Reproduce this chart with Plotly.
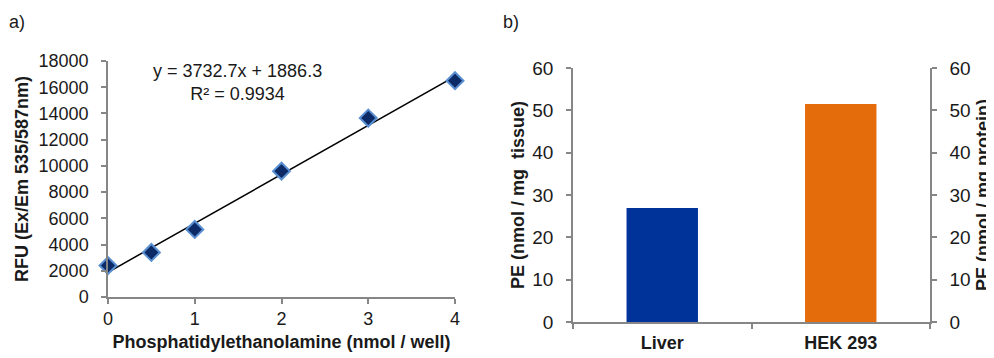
import plotly.graph_objects as go

# ---- data ----
pe_nmol = [0, 0.5, 1, 2, 3, 4]
rfu = [2400, 3400, 5150, 9600, 13650, 16500]
fit_slope = 3732.7
fit_intercept = 1886.3
fit_r2 = 0.9934
fit_x = [0, 4]

samples = ["Liver", "HEK 293"]
pe_tissue = [26.9]      # Liver, nmol / mg tissue (left axis)
pe_protein = [51.5]     # HEK 293, nmol / mg protein (right axis)

W, H = 994, 358
OFF = 8  # page body margin
ML, MR, MT, MB = 40, 20, 30, 20
FONT = "Liberation Sans, Arial, sans-serif"
AX = "#868686"
TXT = "#1a1a1a"

def px_x(p):
    return (p - OFF - ML) / (W - ML - MR)

def px_y(p):
    return 1 - (p - OFF - MT) / (H - MT - MB)

fit_y = [fit_slope * x + fit_intercept for x in fit_x]

fig = go.Figure()

fig.add_trace(go.Scatter(
    x=fit_x, y=fit_y, mode="lines",
    line=dict(color="black", width=1.5),
    xaxis="x", yaxis="y", showlegend=False, hoverinfo="skip",
    cliponaxis=False))
fig.add_trace(go.Scatter(
    x=pe_nmol, y=rfu, mode="markers",
    marker=dict(symbol="diamond", size=13, color="#0c2a66",
                line=dict(color="#5a8fd2", width=2)),
    xaxis="x", yaxis="y", showlegend=False, cliponaxis=False))

fig.add_trace(go.Bar(
    x=[samples[0]], y=pe_tissue, marker_color="#003399",
    width=0.4, offset=-0.2, marker_line_width=0,
    xaxis="x2", yaxis="y2", showlegend=False))
fig.add_trace(go.Bar(
    x=[samples[1]], y=pe_protein, marker_color="#e46c0a",
    width=0.4, offset=-0.2, marker_line_width=0,
    xaxis="x2", yaxis="y3", showlegend=False))

tickfont = dict(family=FONT, size=18, color=TXT)
tickfont_b = dict(family=FONT, size=19, color=TXT)
titlefont = dict(family=FONT, size=18, color=TXT, weight="bold")

base = dict(showline=True, linecolor=AX, linewidth=1.5, ticks="outside",
            tickcolor=AX, ticklen=5, tickwidth=1.5, showgrid=False,
            zeroline=False, automargin=False)

fig.update_layout(
    template="none",
    width=W, height=H,
    margin=dict(l=ML, r=MR, t=MT, b=MB),
    paper_bgcolor="white", plot_bgcolor="white",
    font=dict(family=FONT, color=TXT),
    xaxis=dict(domain=[px_x(108), px_x(455)], range=[0, 4],
               tickvals=[0, 1, 2, 3, 4], anchor="y", tickfont=tickfont,
               title=dict(text="Phosphatidylethanolamine (nmol / well)",
                          font=titlefont, standoff=7),
               ticklabelstandoff=0, **base),
    yaxis=dict(domain=[px_y(297), px_y(61)], range=[0, 18000],
               dtick=2000, anchor="x", tickformat="d", tickfont=tickfont,
               title=dict(text="RFU (Ex/Em 535/587nm)", font=titlefont,
                          standoff=5),
               ticklabelstandoff=9, **base),
    xaxis2=dict(domain=[px_x(573), px_x(930)], anchor="y2",
                type="category", range=[-0.5, 1.5], tickson="boundaries",
                tickfont=dict(family=FONT, size=18, color=TXT, weight="bold"),
                ticklabelstandoff=4, **base),
    yaxis2=dict(domain=[px_y(322), px_y(68)], range=[0, 60], dtick=10,
                anchor="x2", tickfont=tickfont_b,
                title=dict(text="PE (nmol / mg  tissue)", font=titlefont,
                           standoff=3),
                ticklabelstandoff=9, **base),
    yaxis3=dict(domain=[px_y(322), px_y(68)], range=[0, 60], dtick=10,
                anchor="x2", overlaying="y2", side="right",
                tickfont=tickfont_b,
                title=dict(text="PE (nmol / mg protein)", font=titlefont,
                           standoff=7),
                ticklabelstandoff=9, **base),
    annotations=[
        dict(text="a)", x=px_x(7), y=px_y(22), xref="paper", yref="paper",
             xanchor="left", yanchor="middle", showarrow=False,
             font=dict(family=FONT, size=18, color=TXT)),
        dict(text="b)", x=px_x(501), y=px_y(22), xref="paper", yref="paper",
             xanchor="left", yanchor="middle", showarrow=False,
             font=dict(family=FONT, size=18, color=TXT)),
        dict(text=f"y = {fit_slope}x + {fit_intercept}<br>R² = {fit_r2}",
             x=px_x(237), y=px_y(83), xref="paper", yref="paper",
             xanchor="center", yanchor="middle", showarrow=False,
             align="center",
             font=dict(family=FONT, size=18, color=TXT)),
    ],
)

fig.write_html("out.html")
